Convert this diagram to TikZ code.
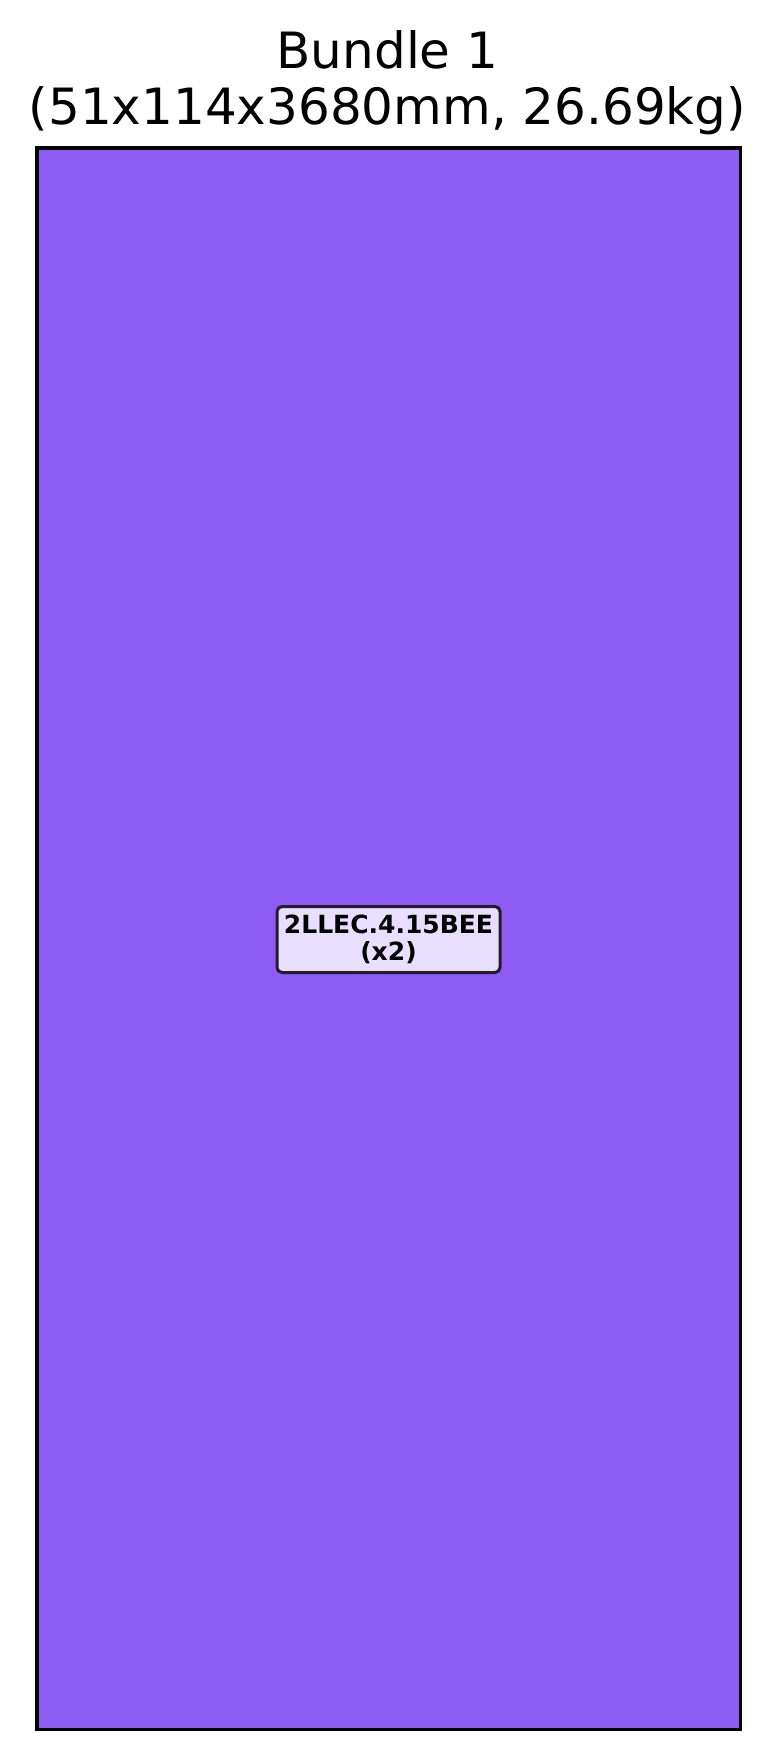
\documentclass[tikz,border=0pt]{standalone}
\usepackage{fontspec}
\setmainfont{DejaVu Sans}
\definecolor{bundlefill}{HTML}{8E5CF4}
\definecolor{labelfill}{HTML}{E8DEFD}
\definecolor{labeledge}{HTML}{231C2E}
\tikzset{
  bundlebox/.style={draw=black, line width=3.5pt, fill=bundlefill},
  titletext/.style={anchor=base, inner sep=0pt, font=\fontsize{50}{60}\selectfont},
  itemlabel/.style={draw=labeledge, line width=3pt, fill=labelfill, rounded corners=5pt,
    minimum width=223pt, minimum height=66pt, inner sep=0pt, align=center,
    font=\fontsize{25}{27.6}\selectfont\bfseries}
}
\begin{document}
\begin{tikzpicture}[x=1pt,y=-1pt]
\useasboundingbox (0,0) rectangle (777,1759);
\path[bundlebox] (37,148) rectangle (740.5,1729.5);
\coordinate (bundlecenter) at (388.5,939.5);
\node[titletext] (title1) at (387.5,68.5) {Bundle 1};
\node[titletext] (title2) at (387.5,124.5) {(51x114x3680mm, 26.69kg)};
\node[itemlabel] (item) at (bundlecenter) {2LLEC.4.15BEE\\(x2)};
\end{tikzpicture}
\end{document}
